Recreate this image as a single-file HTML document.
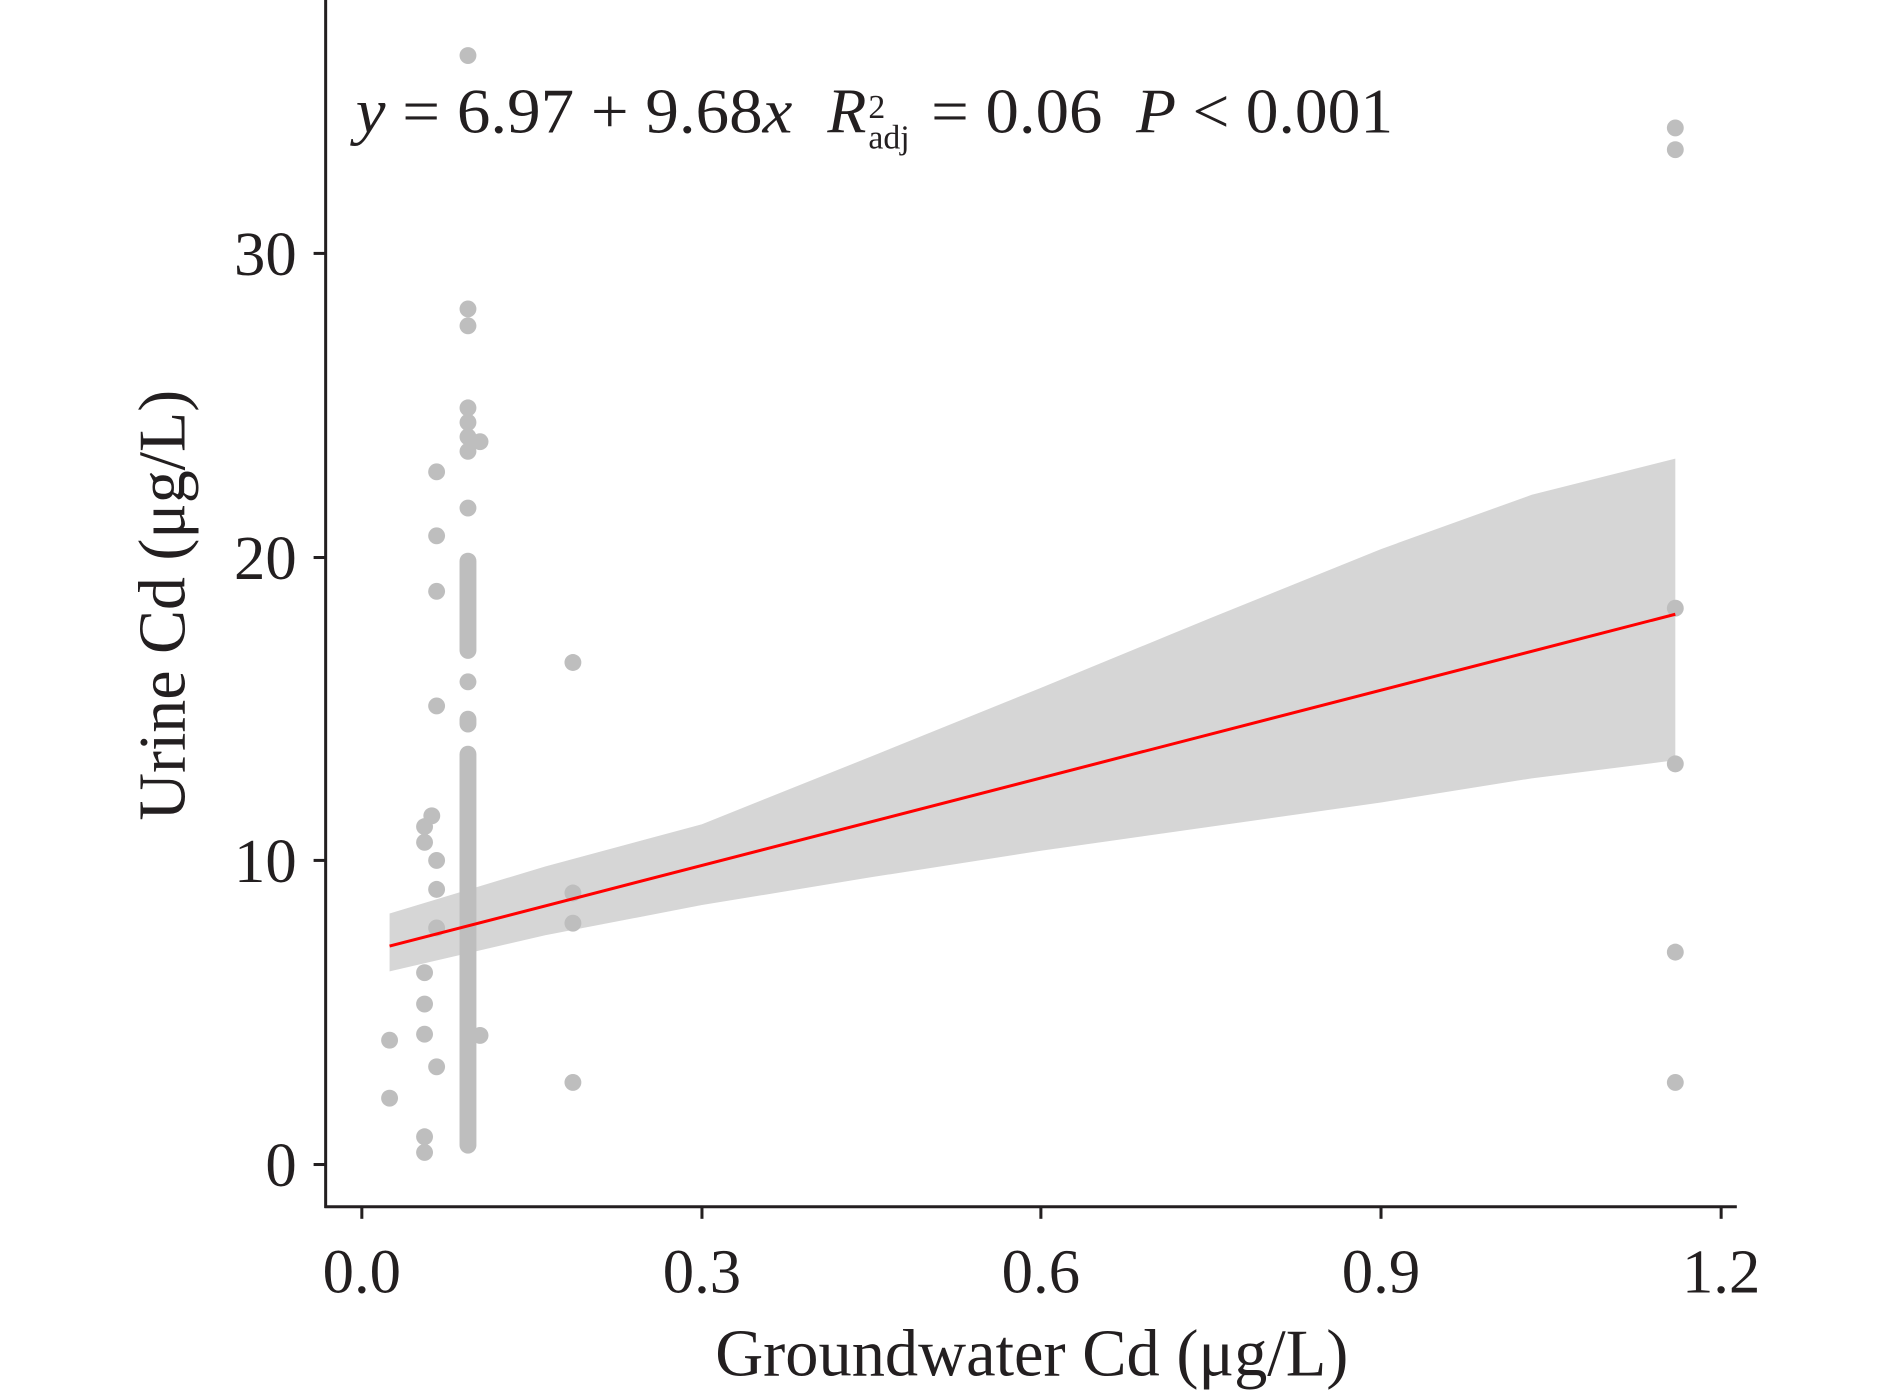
<!DOCTYPE html>
<html><head><meta charset="utf-8"><style>html,body{margin:0;padding:0;background:#fff}svg{display:block}</style></head>
<body>
<svg width="1890" height="1395" viewBox="0 0 1567 1156" preserveAspectRatio="none" xmlns="http://www.w3.org/2000/svg" font-family="'Liberation Serif', serif" fill="#231f20">
<polygon points="323,757 452,718 582,683 722,627 863,570 1004,512 1145,455 1270,410 1389,380 1389,630 1270,645 1145,665 1004,685 863,705 722,727 582,750 452,775 323,805" fill="#d6d6d6"/>
<g fill="#bebebe">
<circle cx="323" cy="862" r="7"/><circle cx="323" cy="910" r="7"/>
<circle cx="352" cy="955" r="7"/><circle cx="352" cy="942" r="7"/><circle cx="352" cy="857" r="7"/><circle cx="352" cy="832" r="7"/><circle cx="352" cy="806" r="7"/><circle cx="352" cy="698" r="7"/><circle cx="352" cy="685" r="7"/>
<circle cx="362" cy="391" r="7"/><circle cx="362" cy="444" r="7"/><circle cx="362" cy="490" r="7"/><circle cx="362" cy="585" r="7"/><circle cx="358" cy="676" r="7"/><circle cx="362" cy="713" r="7"/><circle cx="362" cy="737" r="7"/><circle cx="362" cy="769" r="7"/><circle cx="362" cy="884" r="7"/>
<circle cx="388" cy="46" r="7"/><circle cx="388" cy="256" r="7"/><circle cx="388" cy="270" r="7"/><circle cx="388" cy="338" r="7"/><circle cx="388" cy="350" r="7"/><circle cx="388" cy="362" r="7"/><circle cx="388" cy="374" r="7"/><circle cx="398" cy="366" r="7"/><circle cx="388" cy="421" r="7"/>
<rect x="381" y="458" width="14" height="88" rx="7"/>
<circle cx="388" cy="565" r="7"/>
<rect x="381" y="589" width="14" height="18" rx="7"/>
<rect x="381" y="618" width="14" height="338" rx="7"/>
<circle cx="398" cy="858" r="7"/>
<circle cx="475" cy="549" r="7"/><circle cx="475" cy="740" r="7"/><circle cx="475" cy="765" r="7"/><circle cx="475" cy="897" r="7"/>
<circle cx="1389" cy="106" r="7"/><circle cx="1389" cy="124" r="7"/><circle cx="1389" cy="504" r="7"/><circle cx="1389" cy="633" r="7"/><circle cx="1389" cy="789" r="7"/><circle cx="1389" cy="897" r="7"/>
</g>
<line x1="323" y1="784" x2="1389" y2="509" stroke="#ff0000" stroke-width="2.5"/>
<g stroke="#231f20" stroke-width="2.5">
<line x1="270" y1="0" x2="270" y2="1001"/><line x1="269" y1="1000" x2="1440" y2="1000"/>
<line x1="260" y1="965" x2="270" y2="965"/><line x1="260" y1="713" x2="270" y2="713"/><line x1="260" y1="462" x2="270" y2="462"/><line x1="260" y1="210" x2="270" y2="210"/>
<line x1="300" y1="1000" x2="300" y2="1010"/><line x1="582" y1="1000" x2="582" y2="1010"/><line x1="863" y1="1000" x2="863" y2="1010"/><line x1="1145" y1="1000" x2="1145" y2="1010"/><line x1="1427" y1="1000" x2="1427" y2="1010"/>
</g>
<g font-size="52" text-anchor="end">
<text x="246" y="983">0</text><text x="246" y="731">10</text><text x="246" y="480">20</text><text x="246" y="228">30</text>
</g>
<g font-size="52" text-anchor="middle">
<text x="300" y="1071">0.0</text><text x="582" y="1071">0.3</text><text x="863" y="1071">0.6</text><text x="1145" y="1071">0.9</text><text x="1427" y="1071">1.2</text>
</g>
<text x="593" y="1140" font-size="55" textLength="525" lengthAdjust="spacingAndGlyphs">Groundwater Cd (μg/L)</text>
<text transform="translate(153,680) rotate(-90)" font-size="55" textLength="357" lengthAdjust="spacingAndGlyphs">Urine Cd (μg/L)</text>
<text x="295" y="110" font-size="53" textLength="362" lengthAdjust="spacingAndGlyphs"><tspan font-style="italic">y</tspan> = 6.97 + 9.68<tspan font-style="italic">x</tspan></text>
<text x="686" y="110" font-size="53" font-style="italic">R</text>
<text x="720" y="98" font-size="28">2</text>
<text x="720" y="123" font-size="28">adj</text>
<text x="772" y="110" font-size="53" textLength="142" lengthAdjust="spacingAndGlyphs">= 0.06</text>
<text x="942" y="110" font-size="53" textLength="213" lengthAdjust="spacingAndGlyphs"><tspan font-style="italic">P</tspan> &lt; 0.001</text>
</svg>
</body></html>
